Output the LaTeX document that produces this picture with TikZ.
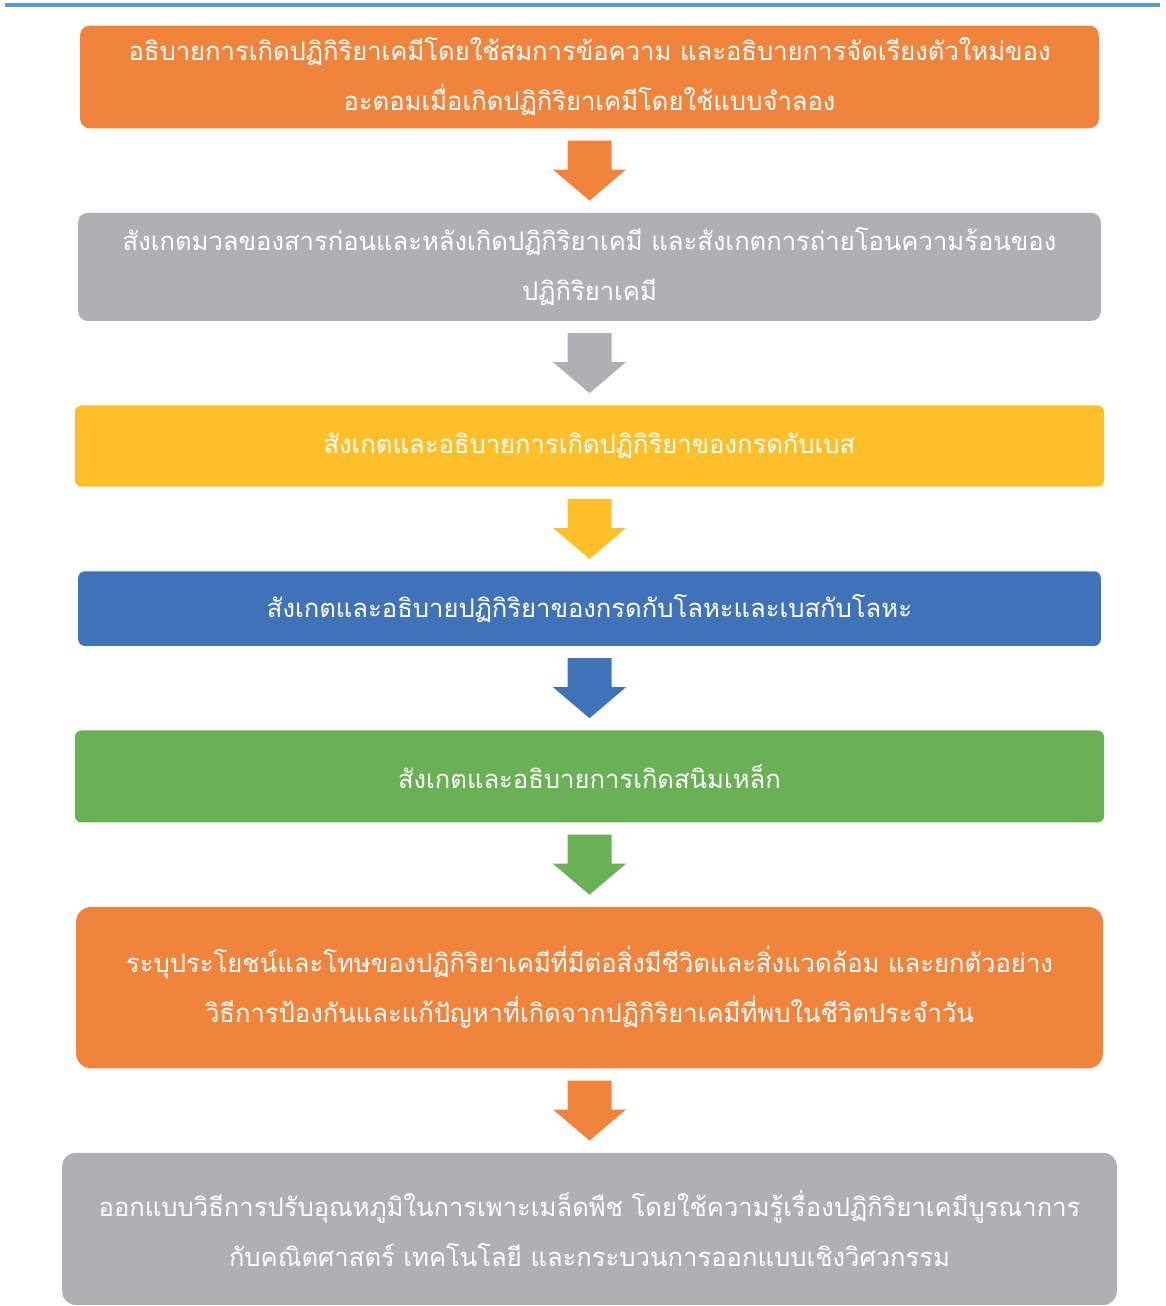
\documentclass[tikz,border=0pt]{standalone}
\usepackage{fontspec}
\newfontfamily\thaifont[Script=Thai]{Loma}
\usepackage{xcolor}
\usepackage{tikz}
\usetikzlibrary{positioning,calc}

\definecolor{stageorange}{RGB}{241,132,61}
\definecolor{stagegray}{RGB}{175,176,180}
\definecolor{stageyellow}{RGB}{253,191,42}
\definecolor{stageblue}{RGB}{64,114,184}
\definecolor{stagegreen}{RGB}{106,176,84}
\definecolor{ruleblue}{RGB}{91,155,213}

% block arrow from one stage to the next
\newcommand{\flowarrow}[3]{%
  \fill[#3] ($(#1.south)+(-22,12)$) -- ($(#1.south)+(22,12)$)
    -- ($(#2.north)+(22,-43)$) -- ($(#2.north)+(36.5,-43)$)
    -- ($(#2.north)+(0,-12)$) -- ($(#2.north)+(-36.5,-43)$)
    -- ($(#2.north)+(-22,-43)$) -- cycle;}

\begin{document}
\begin{tikzpicture}[
    x=0.75pt, y=-0.75pt,
    stage/.style={rectangle, rounded corners=7pt, inner sep=0pt, align=center, text=white,
      font=\thaifont\fontsize{19.2}{37.5}\selectfont},
]
\useasboundingbox (0,0) rectangle (1165,1306);

% Top rule
\draw[ruleblue, line width=3pt] (5,5) -- (1160,5);

% Stage 1
\node[stage, fill=stageorange, minimum width=764pt, minimum height=77pt] (equation) at (589.5,77)
  {อธิบายการเกิดปฏิกิริยาเคมีโดยใช้สมการข้อความ และอธิบายการจัดเรียงตัวใหม่ของ\\อะตอมเมื่อเกิดปฏิกิริยาเคมีโดยใช้แบบจำลอง};

% Stage 2
\node[stage, fill=stagegray, minimum width=767pt, minimum height=81pt, below=63pt of equation] (massheat)
  {สังเกตมวลของสารก่อนและหลังเกิดปฏิกิริยาเคมี และสังเกตการถ่ายโอนความร้อนของ\\ปฏิกิริยาเคมี};

% Stage 3
\node[stage, fill=stageyellow, minimum width=772pt, minimum height=61pt, rounded corners=5pt, below=63pt of massheat] (acidbase)
  {สังเกตและอธิบายการเกิดปฏิกิริยาของกรดกับเบส};

% Stage 4
\node[stage, fill=stageblue, minimum width=767pt, minimum height=56pt, rounded corners=5pt, below=63pt of acidbase] (metal)
  {สังเกตและอธิบายปฏิกิริยาของกรดกับโลหะและเบสกับโลหะ};

% Stage 5
\node[stage, fill=stagegreen, minimum width=772pt, minimum height=69pt, rounded corners=5pt, below=63pt of metal] (rust)
  {สังเกตและอธิบายการเกิดสนิมเหล็ก};

% Stage 6
\node[stage, fill=stageorange, minimum width=770pt, minimum height=121pt, rounded corners=11pt, below=63pt of rust] (impact)
  {ระบุประโยชน์และโทษของปฏิกิริยาเคมีที่มีต่อสิ่งมีชีวิตและสิ่งแวดล้อม และยกตัวอย่าง\\วิธีการป้องกันและแก้ปัญหาที่เกิดจากปฏิกิริยาเคมีที่พบในชีวิตประจำวัน};

% Stage 7
\node[stage, fill=stagegray, minimum width=791pt, minimum height=114pt, rounded corners=10pt, below=63pt of impact] (design)
  {ออกแบบวิธีการปรับอุณหภูมิในการเพาะเมล็ดพืช โดยใช้ความรู้เรื่องปฏิกิริยาเคมีบูรณาการ\\กับคณิตศาสตร์ เทคโนโลยี และกระบวนการออกแบบเชิงวิศวกรรม};

% Arrows
\flowarrow{equation}{massheat}{stageorange}
\flowarrow{massheat}{acidbase}{stagegray}
\flowarrow{acidbase}{metal}{stageyellow}
\flowarrow{metal}{rust}{stageblue}
\flowarrow{rust}{impact}{stagegreen}
\flowarrow{impact}{design}{stageorange}

\end{tikzpicture}
\end{document}
